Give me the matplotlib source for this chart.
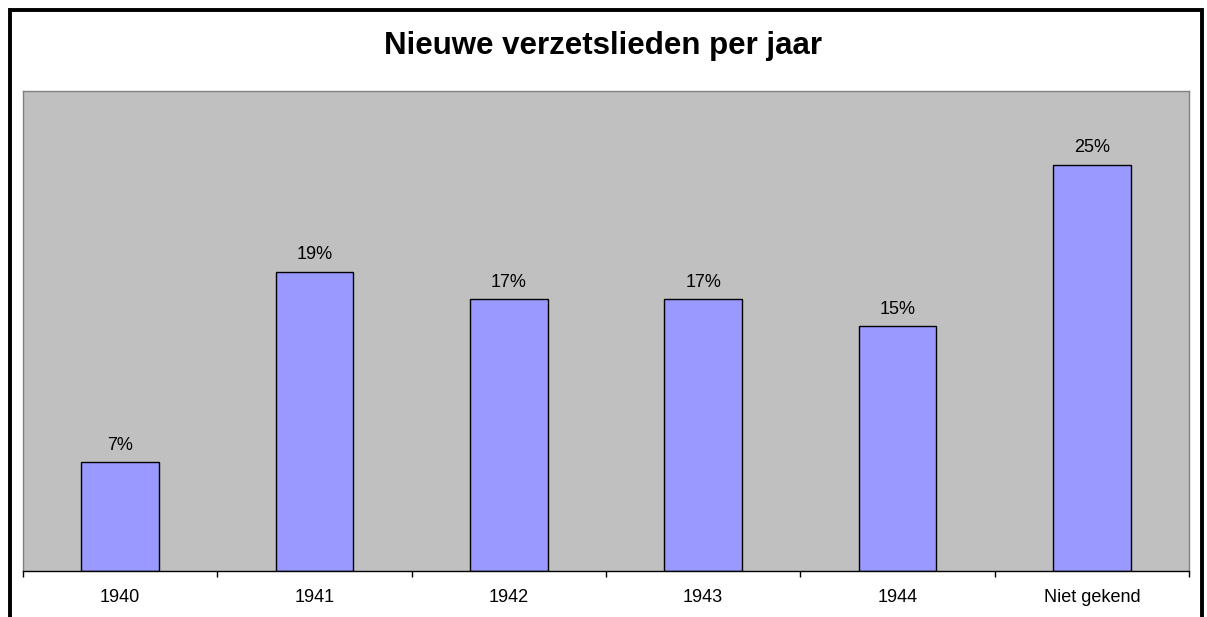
import matplotlib.pyplot as plt
import numpy as np
from matplotlib.patches import Rectangle
from matplotlib.ticker import FixedLocator

# data (percentages)
categories = ['1940', '1941', '1942', '1943', '1944', 'Niet gekend']
values = [6.8, 18.7, 17.0, 17.0, 15.3, 25.4]
labels = ['7%', '19%', '17%', '17%', '15%', '25%']

plt.rcParams['font.family'] = ['Liberation Sans', 'DejaVu Sans']

fig = plt.figure(figsize=(12.07, 6.17), dpi=100)
ax = fig.add_axes([23/1207, 46/617, 1166/1207, 480/617])

x = np.arange(len(categories))
bars = ax.bar(x, values, width=0.4, color='#9999FF', edgecolor='black', linewidth=1.0)

ax.set_facecolor('#C0C0C0')
ax.set_xlim(-0.5, len(categories) - 0.5)
ax.set_ylim(0, 30)

# labels boven de balken
for b, lab in zip(bars, labels):
    ax.annotate(lab, (b.get_x() + b.get_width() / 2, b.get_height()),
                xytext=(0, 6), textcoords='offset points',
                ha='center', va='bottom', fontsize=13)

# x-as: labels in het midden, streepjes op de grenzen
ax.set_xticks(x)
ax.set_xticklabels(categories, fontsize=13)
ax.tick_params(axis='x', which='major', length=0, pad=13)
ax.xaxis.set_minor_locator(FixedLocator(np.arange(-0.5, len(categories), 1.0)))
ax.tick_params(axis='x', which='minor', length=4, width=1, direction='out', color='black')
ax.set_yticks([])

for s in ['top', 'left', 'right']:
    ax.spines[s].set_color('#808080')
    ax.spines[s].set_linewidth(1.0)
ax.spines['bottom'].set_color('black')
ax.spines['bottom'].set_linewidth(1.0)

fig.text(0.5, 1 - 54/617, 'Nieuwe verzetslieden per jaar', ha='center', va='baseline',
         fontsize=22.5, fontweight='bold')

# zwarte rand rond de grafiek (onderkant valt buiten het beeld)
frame = Rectangle((9.5/1207, -0.05), 1192/1207, 1.05 - 9.5/617, transform=fig.transFigure,
                  fill=False, edgecolor='black', linewidth=2.8, clip_on=False)
fig.patches.append(frame)

fig.savefig('out.png', dpi=100, facecolor='white')
